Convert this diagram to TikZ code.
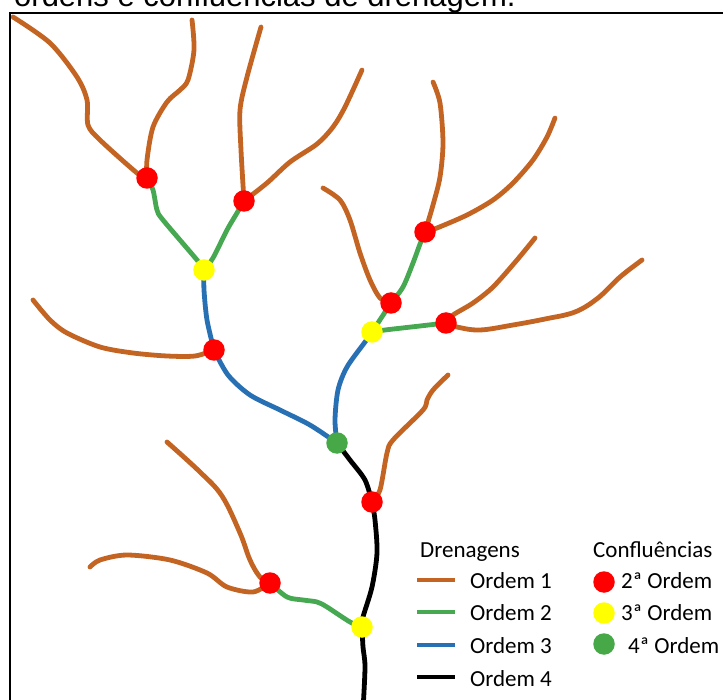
\documentclass[tikz,border=0pt]{standalone}
\usepackage{fontspec}
\newfontfamily\legendfont{Carlito}
\newfontfamily\titlefont{Liberation Sans}
\usetikzlibrary{backgrounds}

\definecolor{ordone}{RGB}{195,100,35}
\definecolor{ordtwo}{RGB}{70,168,80}
\definecolor{ordthree}{RGB}{40,112,180}
\definecolor{ordfour}{RGB}{0,0,0}
\definecolor{dotred}{RGB}{255,0,0}
\definecolor{dotyellow}{RGB}{255,255,0}
\definecolor{dotgreen}{RGB}{70,168,70}

\tikzset{
  river/.style={line width=4.8pt, line cap=round, line join=round},
  rone/.style={river, draw=ordone},
  rtwo/.style={river, draw=ordtwo},
  rthree/.style={river, draw=ordthree},
  rfour/.style={river, draw=ordfour},
  conf/.style={circle, inner sep=0pt, minimum size=21.5pt, draw=none},
  confred/.style={conf, fill=dotred},
  confyellow/.style={conf, fill=dotyellow},
  confgreen/.style={conf, fill=dotgreen},
  legtext/.style={font=\legendfont\fontsize{23}{27}\selectfont, inner sep=0pt, anchor=base west},
  legline/.style={line width=4pt},
}

\begin{document}
\begin{tikzpicture}[x=1pt, y=-1pt]
\path[use as bounding box, clip] (0,0) rectangle (723,700);

% heading line of the figure, cut by the top edge
\node[font=\titlefont\fontsize{31}{36}\selectfont, inner sep=0pt, anchor=base west] (title) at (14,7) {ordens e confluências de drenagem.};

% frame
\draw[line width=2.5pt] (10,700) -- (10,13) -- (730,13);

% confluences
\node[confred] (r1) at (147,178) {};
\node[confred] (r2) at (244,201) {};
\node[confyellow] (y1) at (204,270) {};
\node[confred] (r3) at (214,350) {};
\node[confred] (r4) at (425,232) {};
\node[confred] (r5) at (391,303) {};
\node[confyellow] (y2) at (372,332) {};
\node[confred] (r6) at (446,323) {};
\node[confgreen] (g1) at (337,443) {};
\node[confred] (r7) at (372,502) {};
\node[confred] (r8) at (270,583) {};
\node[confyellow] (y3) at (362,627) {};

% stream heads
\coordinate (s1) at (13,17);
\coordinate (s2) at (192,20);
\coordinate (s3) at (261,27);
\coordinate (s4) at (362,70);
\coordinate (s5) at (33,300);
\coordinate (s6) at (323,188);
\coordinate (s7) at (433,82);
\coordinate (s8) at (555,118);
\coordinate (s9) at (535,238);
\coordinate (s10) at (642,260);
\coordinate (s11) at (448,375);
\coordinate (s12) at (167,442);
\coordinate (s13) at (90,567);
\coordinate (outlet) at (363,710);

\begin{scope}[on background layer]
  % first order
  \draw[rone] plot[smooth, tension=0.5] coordinates {(s1) (50,43) (77,77) (87,100) (88,125) (100,140) (137,173) (r1.center)};
  \draw[rone] plot[smooth, tension=0.5] coordinates {(s2) (194,50) (188,80) (180,90) (167,102) (153,127) (147,160) (r1.center)};
  \draw[rone] plot[smooth, tension=0.5] coordinates {(s3) (247,77) (240,110) (241,150) (r2.center)};
  \draw[rone] plot[smooth, tension=0.5] coordinates {(s4) (345,107) (333,127) (317,144) (290,162) (267,183) (r2.center)};
  \draw[rone] plot[smooth, tension=0.5] coordinates {(s5) (50,320) (67,333) (100,347) (133,353) (167,356) (195,356) (r3.center)};
  \draw[rone] plot[smooth, tension=0.5] coordinates {(s6) (340,200) (350,220) (360,253) (370,280) (380,298) (r5.center)};
  \draw[rone] plot[smooth, tension=0.5] coordinates {(s7) (440,103) (443,143) (440,177) (433,205) (r4.center)};
  \draw[rone] plot[smooth, tension=0.5] coordinates {(s8) (547,137) (533,160) (513,183) (493,200) (467,215) (437,228) (r4.center)};
  \draw[rone] plot[smooth, tension=0.5] coordinates {(s9) (517,260) (493,287) (473,303) (453,315) (r6.center)};
  \draw[rone] plot[smooth, tension=0.6] coordinates {(s10) (620,277) (598,298) (575,312) (545,319) (513,325) (480,330) (457,327) (r6.center)};
  \draw[rone] plot[smooth, tension=0.5] coordinates {(s11) (433,390) (427,400) (423,410) (393,440) (387,453) (380,490) (r7.center)};
  \draw[rone] plot[smooth, tension=0.6] coordinates {(s12) (200,472) (222,496) (240,533) (250,560) (260,577) (r8.center)};
  \draw[rone] plot[smooth, tension=0.5] coordinates {(s13) (100,560) (127,555) (170,560) (207,573) (227,587) (253,592) (r8.center)};

  % second order
  \draw[rtwo] plot[smooth, tension=0.5] coordinates {(r1.center) (153,190) (157,210) (163,220) (197,260) (y1.center)};
  \draw[rtwo] plot[smooth, tension=0.5] coordinates {(r2.center) (237,213) (227,230) (213,258) (y1.center)};
  \draw[rtwo] plot[smooth, tension=0.5] coordinates {(r4.center) (420,244) (413,263) (403,287) (r5.center)};
  \draw[rtwo] (r5.center) -- (y2.center);
  \draw[rtwo] plot[smooth, tension=0.5] coordinates {(y2.center) (385,330) (420,326) (r6.center)};
  \draw[rtwo] plot[smooth, tension=0.5] coordinates {(r8.center) (287,597) (303,600) (317,602) (327,607) (350,622) (y3.center)};

  % third order
  \draw[rthree] plot[smooth, tension=0.5] coordinates {(y1.center) (204,290) (207,320) (r3.center)};
  \draw[rthree] plot[smooth, tension=0.5] coordinates {(r3.center) (228,375) (250,395) (280,410) (310,425) (g1.center)};
  \draw[rthree] plot[smooth, tension=0.5] coordinates {(y2.center) (365,342) (347,367) (338,390) (335,420) (g1.center)};

  % fourth order
  \draw[rfour] plot[smooth, tension=0.5] coordinates {(g1.center) (350,460) (365,480) (r7.center)};
  \draw[rfour] plot[smooth, tension=0.5] coordinates {(r7.center) (375,520) (377,553) (372,587) (363,617) (y3.center)};
  \draw[rfour] plot[smooth, tension=0.5] coordinates {(y3.center) (363,647) (365,667) (outlet)};
\end{scope}

% legend: drainage orders
\node[legtext] (hdrain) at (420,557) {Drenagens};
\coordinate (la1) at (417,580); \coordinate (lb1) at (455,580);
\coordinate (la2) at (417,612); \coordinate (lb2) at (455,612);
\coordinate (la3) at (417,645); \coordinate (lb3) at (455,645);
\coordinate (la4) at (417,677); \coordinate (lb4) at (455,677);
\draw[legline, ordone] (la1) -- (lb1);
\draw[legline, ordtwo] (la2) -- (lb2);
\draw[legline, ordthree] (la3) -- (lb3);
\draw[legline, ordfour] (la4) -- (lb4);
\node[legtext] (t1) at (470,588) {Ordem 1};
\node[legtext] (t2) at (470,620) {Ordem 2};
\node[legtext] (t3) at (470,653) {Ordem 3};
\node[legtext] (t4) at (470,686) {Ordem 4};

% legend: confluences
\node[legtext] (hconf) at (593,557) {Confluências};
\node[confred] (k2) at (604,582) {};
\node[confyellow] (k3) at (604,613) {};
\node[confgreen] (k4) at (604,644) {};
\node[legtext] (c2) at (621,588) {2ª Ordem};
\node[legtext] (c3) at (621,620) {3ª Ordem};
\node[legtext] (c4) at (628,653) {4ª Ordem};
\end{tikzpicture}
\end{document}
